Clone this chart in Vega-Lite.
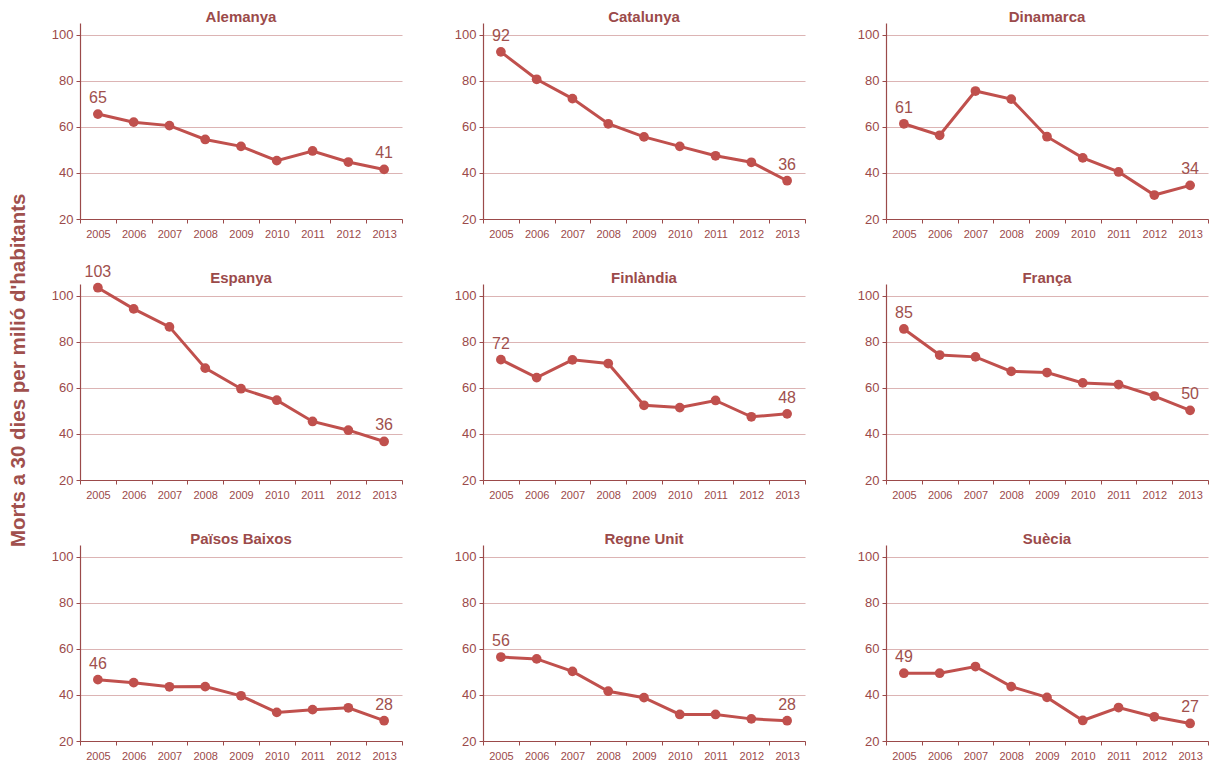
{
  "$schema": "https://vega.github.io/schema/vega-lite/v6.json",
  "background": "white",
  "bounds": "flush",
  "padding": {"left": 8, "top": 9, "right": 3, "bottom": 5},
  "title": {"text": "Morts a 30 dies per milió d'habitants", "orient": "left", "anchor": "middle", "fontSize": 20.5, "fontWeight": "bold", "color": "#a0504d", "font": "Liberation Sans", "offset": 22, "dx": 15},
  "data": {"values": [
    {"pais": "Alemanya", "any": "2005", "valor": 65.5, "etiqueta": "65"},
    {"pais": "Alemanya", "any": "2006", "valor": 62.0, "etiqueta": null},
    {"pais": "Alemanya", "any": "2007", "valor": 60.5, "etiqueta": null},
    {"pais": "Alemanya", "any": "2008", "valor": 54.5, "etiqueta": null},
    {"pais": "Alemanya", "any": "2009", "valor": 51.5, "etiqueta": null},
    {"pais": "Alemanya", "any": "2010", "valor": 45.3, "etiqueta": null},
    {"pais": "Alemanya", "any": "2011", "valor": 49.5, "etiqueta": null},
    {"pais": "Alemanya", "any": "2012", "valor": 44.7, "etiqueta": null},
    {"pais": "Alemanya", "any": "2013", "valor": 41.5, "etiqueta": "41"},
    {"pais": "Catalunya", "any": "2005", "valor": 92.5, "etiqueta": "92"},
    {"pais": "Catalunya", "any": "2006", "valor": 80.6, "etiqueta": null},
    {"pais": "Catalunya", "any": "2007", "valor": 72.2, "etiqueta": null},
    {"pais": "Catalunya", "any": "2008", "valor": 61.3, "etiqueta": null},
    {"pais": "Catalunya", "any": "2009", "valor": 55.6, "etiqueta": null},
    {"pais": "Catalunya", "any": "2010", "valor": 51.5, "etiqueta": null},
    {"pais": "Catalunya", "any": "2011", "valor": 47.4, "etiqueta": null},
    {"pais": "Catalunya", "any": "2012", "valor": 44.6, "etiqueta": null},
    {"pais": "Catalunya", "any": "2013", "valor": 36.6, "etiqueta": "36"},
    {"pais": "Dinamarca", "any": "2005", "valor": 61.3, "etiqueta": "61"},
    {"pais": "Dinamarca", "any": "2006", "valor": 56.3, "etiqueta": null},
    {"pais": "Dinamarca", "any": "2007", "valor": 75.5, "etiqueta": null},
    {"pais": "Dinamarca", "any": "2008", "valor": 72.0, "etiqueta": null},
    {"pais": "Dinamarca", "any": "2009", "valor": 55.7, "etiqueta": null},
    {"pais": "Dinamarca", "any": "2010", "valor": 46.5, "etiqueta": null},
    {"pais": "Dinamarca", "any": "2011", "valor": 40.4, "etiqueta": null},
    {"pais": "Dinamarca", "any": "2012", "valor": 30.4, "etiqueta": null},
    {"pais": "Dinamarca", "any": "2013", "valor": 34.6, "etiqueta": "34"},
    {"pais": "Espanya", "any": "2005", "valor": 103.4, "etiqueta": "103"},
    {"pais": "Espanya", "any": "2006", "valor": 94.2, "etiqueta": null},
    {"pais": "Espanya", "any": "2007", "valor": 86.4, "etiqueta": null},
    {"pais": "Espanya", "any": "2008", "valor": 68.5, "etiqueta": null},
    {"pais": "Espanya", "any": "2009", "valor": 59.6, "etiqueta": null},
    {"pais": "Espanya", "any": "2010", "valor": 54.6, "etiqueta": null},
    {"pais": "Espanya", "any": "2011", "valor": 45.4, "etiqueta": null},
    {"pais": "Espanya", "any": "2012", "valor": 41.6, "etiqueta": null},
    {"pais": "Espanya", "any": "2013", "valor": 36.7, "etiqueta": "36"},
    {"pais": "Finlàndia", "any": "2005", "valor": 72.2, "etiqueta": "72"},
    {"pais": "Finlàndia", "any": "2006", "valor": 64.4, "etiqueta": null},
    {"pais": "Finlàndia", "any": "2007", "valor": 72.1, "etiqueta": null},
    {"pais": "Finlàndia", "any": "2008", "valor": 70.5, "etiqueta": null},
    {"pais": "Finlàndia", "any": "2009", "valor": 52.4, "etiqueta": null},
    {"pais": "Finlàndia", "any": "2010", "valor": 51.4, "etiqueta": null},
    {"pais": "Finlàndia", "any": "2011", "valor": 54.5, "etiqueta": null},
    {"pais": "Finlàndia", "any": "2012", "valor": 47.4, "etiqueta": null},
    {"pais": "Finlàndia", "any": "2013", "valor": 48.7, "etiqueta": "48"},
    {"pais": "França", "any": "2005", "valor": 85.5, "etiqueta": "85"},
    {"pais": "França", "any": "2006", "valor": 74.2, "etiqueta": null},
    {"pais": "França", "any": "2007", "valor": 73.4, "etiqueta": null},
    {"pais": "França", "any": "2008", "valor": 67.1, "etiqueta": null},
    {"pais": "França", "any": "2009", "valor": 66.6, "etiqueta": null},
    {"pais": "França", "any": "2010", "valor": 62.1, "etiqueta": null},
    {"pais": "França", "any": "2011", "valor": 61.4, "etiqueta": null},
    {"pais": "França", "any": "2012", "valor": 56.4, "etiqueta": null},
    {"pais": "França", "any": "2013", "valor": 50.2, "etiqueta": "50"},
    {"pais": "Països Baixos", "any": "2005", "valor": 46.6, "etiqueta": "46"},
    {"pais": "Països Baixos", "any": "2006", "valor": 45.3, "etiqueta": null},
    {"pais": "Països Baixos", "any": "2007", "valor": 43.5, "etiqueta": null},
    {"pais": "Països Baixos", "any": "2008", "valor": 43.6, "etiqueta": null},
    {"pais": "Països Baixos", "any": "2009", "valor": 39.6, "etiqueta": null},
    {"pais": "Països Baixos", "any": "2010", "valor": 32.4, "etiqueta": null},
    {"pais": "Països Baixos", "any": "2011", "valor": 33.6, "etiqueta": null},
    {"pais": "Països Baixos", "any": "2012", "valor": 34.4, "etiqueta": null},
    {"pais": "Països Baixos", "any": "2013", "valor": 28.8, "etiqueta": "28"},
    {"pais": "Regne Unit", "any": "2005", "valor": 56.4, "etiqueta": "56"},
    {"pais": "Regne Unit", "any": "2006", "valor": 55.6, "etiqueta": null},
    {"pais": "Regne Unit", "any": "2007", "valor": 50.2, "etiqueta": null},
    {"pais": "Regne Unit", "any": "2008", "valor": 41.6, "etiqueta": null},
    {"pais": "Regne Unit", "any": "2009", "valor": 38.8, "etiqueta": null},
    {"pais": "Regne Unit", "any": "2010", "valor": 31.5, "etiqueta": null},
    {"pais": "Regne Unit", "any": "2011", "valor": 31.5, "etiqueta": null},
    {"pais": "Regne Unit", "any": "2012", "valor": 29.6, "etiqueta": null},
    {"pais": "Regne Unit", "any": "2013", "valor": 28.8, "etiqueta": "28"},
    {"pais": "Suècia", "any": "2005", "valor": 49.4, "etiqueta": "49"},
    {"pais": "Suècia", "any": "2006", "valor": 49.4, "etiqueta": null},
    {"pais": "Suècia", "any": "2007", "valor": 52.3, "etiqueta": null},
    {"pais": "Suècia", "any": "2008", "valor": 43.6, "etiqueta": null},
    {"pais": "Suècia", "any": "2009", "valor": 38.9, "etiqueta": null},
    {"pais": "Suècia", "any": "2010", "valor": 28.9, "etiqueta": null},
    {"pais": "Suècia", "any": "2011", "valor": 34.5, "etiqueta": null},
    {"pais": "Suècia", "any": "2012", "valor": 30.5, "etiqueta": null},
    {"pais": "Suècia", "any": "2013", "valor": 27.6, "etiqueta": "27"}
  ]},
  "facet": {"field": "pais", "type": "nominal", "sort": null, "header": {"title": null, "labels": false, "labelExpr": "''", "labelFontSize": 0, "labelPadding": 0}},
  "columns": 3,
  "spacing": {"row": 65, "column": 81},
  "resolve": {"axis": {"x": "independent", "y": "independent"}},
  "spec": {
    "width": 322,
    "height": 196,
    "encoding": {
      "x": {"field": "any", "type": "ordinal", "scale": {"type": "band", "paddingInner": 0, "paddingOuter": 0},
        "axis": {"title": null, "labelAngle": 0, "grid": false, "tickBand": "extent", "labelFontSize": 11, "labelPadding": 5}},
      "y": {"field": "valor", "type": "quantitative", "scale": {"domain": [20, 105], "nice": false, "zero": false},
        "axis": {"title": null, "values": [20, 40, 60, 80, 100], "grid": true, "labelFontSize": 13, "labelPadding": 3}}
    },
    "layer": [
      {"mark": {"type": "line", "color": "#c0504d", "strokeWidth": 3}},
      {"mark": {"type": "point", "filled": true, "color": "#c0504d", "size": 95, "opacity": 1}},
      {"transform": [{"filter": "datum.etiqueta != null"}],
        "mark": {"type": "text", "dy": -16, "fontSize": 16, "color": "#a0504d", "font": "Liberation Sans"},
        "encoding": {"text": {"field": "etiqueta"}}},
      {"transform": [{"filter": "datum.any == '2009'"}],
        "mark": {"type": "text", "fontSize": 15, "fontWeight": "bold", "color": "#9b4a4a", "font": "Liberation Sans", "baseline": "middle", "clip": false},
        "encoding": {"text": {"field": "pais"}, "y": {"datum": 107.8}}}
    ]
  },
  "config": {
    "view": {"stroke": null},
    "font": "Liberation Sans",
    "header": {"labels": false, "title": null},
    "axis": {"labelColor": "#9b4a4a", "domainColor": "#9b4a4a", "tickColor": "#9b4a4a", "tickSize": 4, "gridColor": "#dcb4b4", "gridWidth": 1.2, "labelFont": "Liberation Sans", "domainWidth": 1.2}
  }
}
